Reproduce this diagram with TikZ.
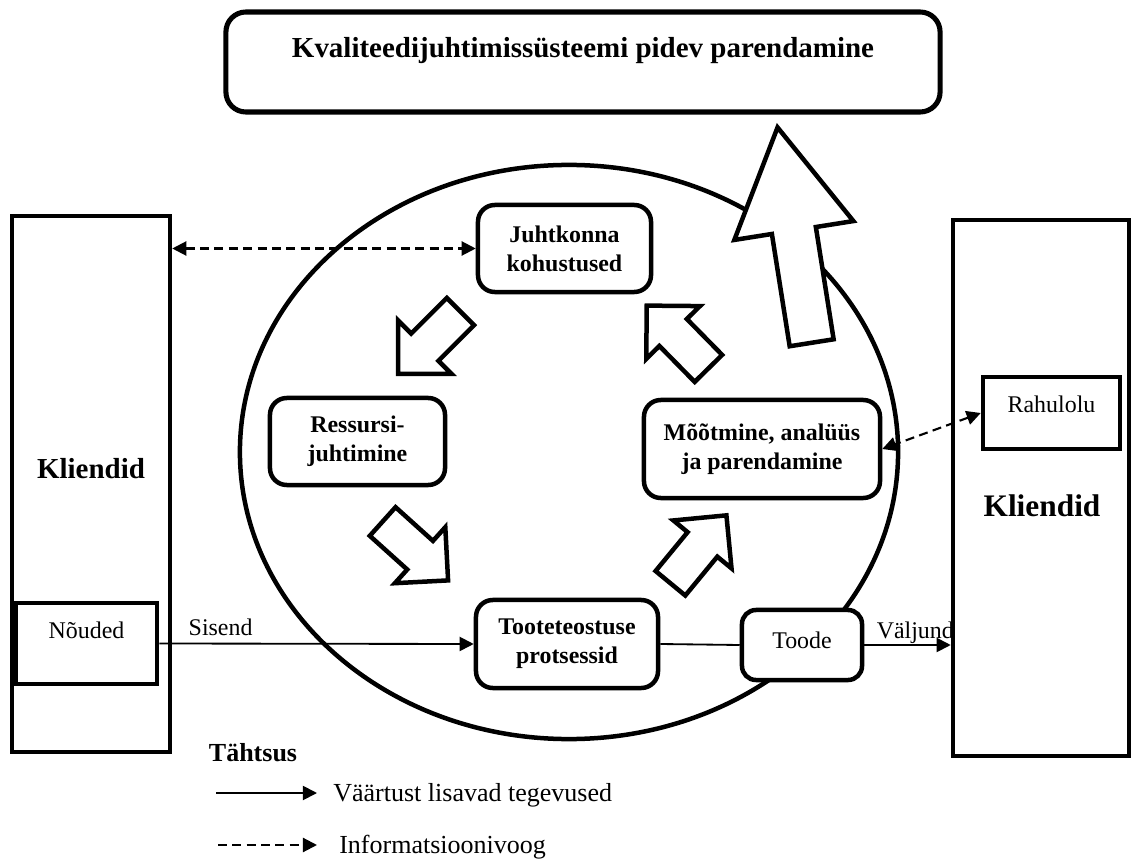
\documentclass[tikz,border=0pt]{standalone}
\usepackage{fontspec}
\setmainfont{Liberation Serif}
\usetikzlibrary{shapes.geometric,shapes.arrows,arrows.meta}

\begin{document}
\begin{tikzpicture}[x=0.025cm, y=-0.025cm,
	nool/.tip={Triangle[length=10pt, width=10pt]},
	kast/.style={draw, line width=3.2pt, rounded corners=0.42cm, fill=white,
		align=center, inner sep=0pt, font=\fontsize{17}{20.6}\selectfont\bfseries},
	raam/.style={draw, line width=3.2pt, fill=white, inner sep=0pt,
		font=\fontsize{17}{20.6}\selectfont},
	plokk/.style={single arrow, draw, fill=white, line width=3.2pt,
		inner xsep=0pt, minimum width=0pt, anchor=tail},
	noolke/.style={plokk, minimum height=2.2cm, inner ysep=0.425cm,
		single arrow head extend=0.46cm},
	tekst/.style={font=\fontsize{17}{20.6}\selectfont, inner sep=0pt},
	legend/.style={font=\fontsize{18.5}{22}\selectfont, inner sep=0pt, anchor=west},
	voog/.style={line width=1.3pt},
	info/.style={line width=1.5pt, dash pattern=on 6.4pt off 3.8pt}
]
	\useasboundingbox (0,0) rectangle (1131,859);

	\node[draw, ellipse, line width=3.2pt, minimum width=16.45cm, minimum height=14.35cm] (ring) at (569,452) {};

	\node[kast, rounded corners=0.5cm, line width=3.6pt, minimum width=17.85cm, minimum height=2.5cm,
		font=\fontsize{20.6}{24}\selectfont\bfseries, text height=14pt, text depth=21pt]
		(parend) at (583,62) {Kvaliteedijuhtimissüsteemi pidev parendamine};

	% kliendid
	\node[raam, minimum width=3.95cm, minimum height=13.4cm] (klL) at (91,484) {};
	\node[raam, minimum width=4.4cm, minimum height=13.4cm] (klR) at (1041,488) {};
	\node[font=\fontsize{20.6}{24}\selectfont\bfseries, inner sep=0pt] (klLtekst) at (91,469) {Kliendid};
	\node[font=\fontsize{22.3}{26}\selectfont\bfseries, inner sep=0pt] (klRtekst) at (1042,506) {Kliendid};
	\node[raam, minimum width=3.525cm, minimum height=2.025cm, text height=11.6pt, text depth=19.4pt] (noud) at (86.5,643.5) {Nõuded};
	\node[raam, minimum width=3.425cm, minimum height=1.8cm, text height=11.6pt, text depth=13pt] (rahul) at (1051.5,413) {Rahulolu};

	% plokknooled
	\node[plokk, minimum height=5.45cm, inner ysep=0.5cm, single arrow head extend=0.95cm,
		single arrow tip angle=60, rotate=99] (p0) at (812,345) {};
	\node[noolke, rotate=225] (p1) at (462,310) {};
	\node[noolke, rotate=-42] (p2) at (381,520) {};
	\node[noolke, rotate=50.5] (p3) at (669,585) {};
	\node[noolke, rotate=134.5] (p4) at (710,370) {};

	\node[kast, minimum width=4.325cm, minimum height=2.175cm] (juht) at (564.5,248.5) {Juhtkonna\\kohustused};
	\node[kast, minimum width=4.375cm, minimum height=2.175cm] (ress) at (357.5,441.5) {Ressursi-\\juhtimine};
	\node[kast, minimum width=5.9cm, minimum height=2.45cm] (moot) at (762,449) {Mõõtmine, analüüs\\ja parendamine};
	\node[kast, minimum width=4.55cm, minimum height=2.2cm] (toote) at (567,644) {Tooteteostuse\\protsessid};
	\node[kast, font=\fontsize{17}{20.6}\selectfont, rounded corners=0.35cm, minimum width=3cm, minimum height=1.75cm,
		text height=11.6pt, text depth=7.3pt] (toode) at (802,645) {Toode};

	\draw[info, nool-nool] (klL.east |- juht.west) -- (juht.west);
	\draw[info, nool-nool] (rahul.west) -- (moot.east);
	\draw[voog, -nool] (noud.east) -- node[tekst, above=5pt, pos=0.195] (sisend) {Sisend} (toote.west);
	\draw[voog] (toote.east) -- (toode.west);
	\draw[voog, -nool] (toode.east) -- node[tekst, above=0pt, pos=0.59] (valjund) {Väljund} (klR.west |- toode.east);

	% tahtsus
	\node[font=\fontsize{18.5}{22}\selectfont\bfseries, inner sep=0pt] (tahtsus) at (253,753) {Tähtsus};
	\coordinate (v1) at (216,793);
	\coordinate (v2) at (317,793);
	\draw[voog, -nool] (v1) -- (v2);
	\node[legend] (vtekst) at (333,795) {Väärtust lisavad tegevused};
	\coordinate (i1) at (218,845);
	\coordinate (i2) at (317,845);
	\draw[info, -nool] (i1) -- (i2);
	\node[legend] (itekst) at (339,847) {Informatsioonivoog};
\end{tikzpicture}
\end{document}
